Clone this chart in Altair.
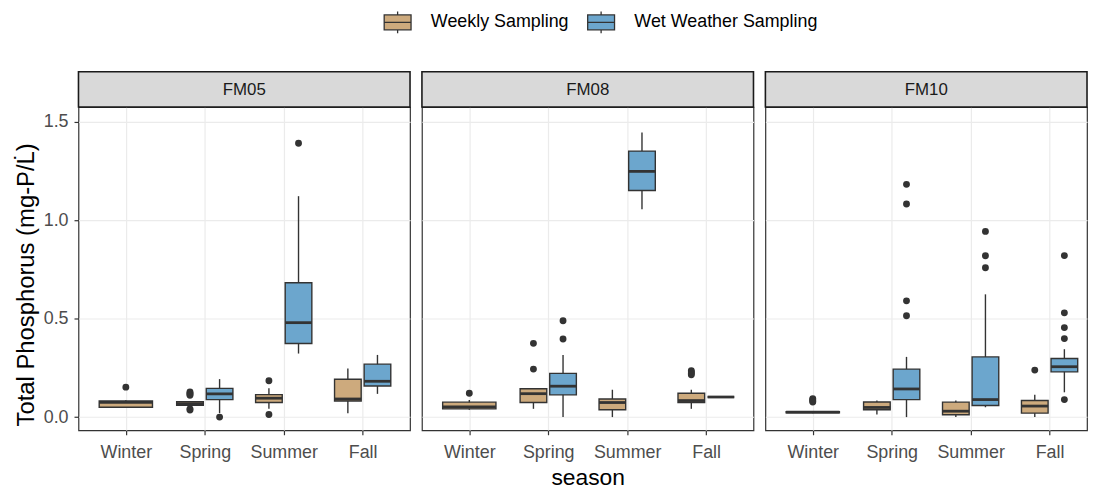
import altair as alt
import pandas as pd

# ---------------- data ----------------
sites = ["FM05", "FM08", "FM10"]
seasons = ["Winter", "Spring", "Summer", "Fall"]
sampling_types = ["Weekly Sampling", "Wet Weather Sampling"]
fill_colors = ["#CDAA7D", "#6CA6CD"]

WK, WW = sampling_types
box_site = ["FM05"] * 7 + ["FM08"] * 7 + ["FM10"] * 7
box_season = ["Winter", "Spring", "Spring", "Summer", "Summer", "Fall", "Fall"] * 3
box_type = [WK, WK, WW, WK, WW, WK, WW] * 3

whisker_low = [0.050, 0.058, 0.020, 0.042, 0.323, 0.020, 0.118,
               0.037, 0.042, 0.000, 0.000, 1.056, 0.042, 0.102,
               0.020, 0.013, 0.000, 0.000, 0.050, 0.000, 0.126]
quart_1 = [0.050, 0.060, 0.089, 0.074, 0.374, 0.082, 0.158,
           0.042, 0.074, 0.113, 0.037, 1.152, 0.074, 0.102,
           0.022, 0.037, 0.089, 0.012, 0.059, 0.020, 0.230]
median = [0.075, 0.068, 0.118, 0.096, 0.480, 0.092, 0.182,
          0.052, 0.119, 0.157, 0.074, 1.249, 0.084, 0.102,
          0.025, 0.049, 0.143, 0.030, 0.089, 0.056, 0.256]
quart_3 = [0.082, 0.078, 0.146, 0.114, 0.683, 0.192, 0.269,
           0.076, 0.144, 0.222, 0.092, 1.352, 0.121, 0.102,
           0.028, 0.077, 0.244, 0.076, 0.306, 0.084, 0.298]
whisker_high = [0.085, 0.080, 0.193, 0.146, 1.123, 0.247, 0.316,
                0.087, 0.144, 0.316, 0.139, 1.447, 0.139, 0.102,
                0.030, 0.084, 0.306, 0.084, 0.624, 0.114, 0.345]

out_site = (["FM05"] * 11 + ["FM08"] * 9 + ["FM10"] * 17)
out_season = (["Winter"] + ["Spring"] * 7 + ["Summer"] * 3 +
              ["Winter"] + ["Spring"] * 4 + ["Fall"] * 4 +
              ["Winter"] * 4 + ["Spring"] * 4 + ["Summer"] * 3 + ["Fall"] * 6)
out_type = ([WK] + [WK] * 6 + [WW] + [WK] * 2 + [WW] +
            [WK] + [WK] * 2 + [WW] * 2 + [WK] * 4 +
            [WK] * 4 + [WW] * 4 + [WW] * 3 + [WK] + [WW] * 5)
out_value = ([0.152, 0.128, 0.122, 0.116, 0.111, 0.042, 0.036, 0.000, 0.185, 0.013, 1.392] +
             [0.121, 0.375, 0.244, 0.397, 0.490, 0.236, 0.229, 0.222, 0.215] +
             [0.094, 0.088, 0.082, 0.077, 1.183, 1.083, 0.591, 0.515, 0.944, 0.820, 0.759,
              0.239, 0.821, 0.530, 0.455, 0.399, 0.089])

y_title = "Total Phosphorus (mg-P/L\u0307)"

# ---------------- dodge (like ggplot position_dodge2) ----------------
box = pd.DataFrame({"site": box_site, "season": box_season, "type": box_type,
                    "lo": whisker_low, "q1": quart_1, "med": median,
                    "q3": quart_3, "hi": whisker_high})
DODGE, PAD = 0.75, 0.1
n = box.groupby(["site", "season"])["type"].transform("count")
rank = box.groupby(["site", "season"]).cumcount()
sidx = box["season"].map({s: i for i, s in enumerate(seasons)})
slot = DODGE / n
box["xc"] = sidx - DODGE / 2 + slot * (rank + 0.5)
box["xl"] = box["xc"] - slot * (1 - PAD) / 2
box["xr"] = box["xc"] + slot * (1 - PAD) / 2

outl = pd.DataFrame({"site": out_site, "season": out_season, "type": out_type, "value": out_value})
outl = outl.merge(box[["site", "season", "type", "xc"]], on=["site", "season", "type"], how="left")

# ---------------- panels ----------------
STEP = 334 / 4.2
widths = [334, 334, 324]
HEIGHT = 325.6
ydom = [-0.067, 1.576]
label_expr = "[" + ",".join("'%s'" % s for s in seasons) + "][datum.value]"
legend_path = ("M-1.23,-0.68H1.23V0.68H-1.23Z M-1.23,0H1.23 "
               "M0,-0.68V-1 M0,0.68V1")


def panel(i, site):
    w = widths[i]
    xs = alt.Scale(domain=[-0.6, -0.6 + w / STEP], nice=False, zero=False)
    ys = alt.Scale(domain=ydom, nice=False, zero=False)
    if i == 1:
        xaxis = alt.Axis(values=[0, 1, 2, 3], labelExpr=label_expr, title="season",
                         titleY=55, titleBaseline="alphabetic", titleFontSize=23)
    else:
        xaxis = alt.Axis(values=[0, 1, 2, 3], labelExpr=label_expr, title=None)
    if i == 0:
        yaxis = alt.Axis(values=[0, 0.5, 1.0, 1.5], format=".1f", title=y_title,
                         titleAngle=270, titleAlign="left", titleBaseline="alphabetic",
                         titleX=-45, titleY=321.3, titleFontSize=24)
    else:
        yaxis = alt.Axis(values=[0, 0.5, 1.0, 1.5], labels=False, ticks=False, title=None)

    def X(f):
        return alt.X(f"{f}:Q", scale=xs, axis=xaxis)

    def Y(f):
        return alt.Y(f"{f}:Q", scale=ys, axis=yaxis)

    b = box[box["site"] == site]
    o = outl[outl["site"] == site]

    whisk = alt.Chart(b).mark_rule(color="#333333", strokeWidth=1.4).encode(
        x=X("xc"), y=Y("lo"), y2="hi")
    rects = alt.Chart(b).mark_rect(stroke="#333333", strokeWidth=1.4).encode(
        x=X("xl"), x2="xr", y=Y("q1"), y2="q3",
        fill=alt.Fill("type:N",
                      scale=alt.Scale(domain=sampling_types, range=fill_colors),
                      legend=alt.Legend(title=None, orient="none", direction="horizontal",
                                        legendX=309.5, legendY=-97.5, padding=0,
                                        symbolType=legend_path, symbolSize=484,
                                        symbolStrokeColor="#333333", symbolStrokeWidth=1.3,
                                        symbolOpacity=1, labelLimit=400,
                                        labelFontSize=18, labelColor="#000000",
                                        labelFont="Liberation Sans",
                                        labelOffset=21.5, columnPadding=15)))
    meds = alt.Chart(b).mark_rule(color="#333333", strokeWidth=2.8).encode(
        x=X("xl"), x2="xr", y=Y("med"))
    pts = alt.Chart(o).mark_circle(size=48, color="#333333", opacity=1).encode(
        x=X("xc"), y=Y("value"))

    strip_df = pd.DataFrame({"site": [site]})
    strip = alt.Chart(strip_df).mark_rect(fill="#D9D9D9", stroke="#1A1A1A", strokeWidth=1.6).encode(
        x=alt.value(0), x2=alt.value(w), y=alt.value(-35.5), y2=alt.value(0))
    strip_txt = alt.Chart(strip_df).mark_text(fontSize=17, color="#1A1A1A",
                                              font="Liberation Sans", baseline="middle").encode(
        text="site:N", x=alt.value(w / 2), y=alt.value(-17.5))

    return alt.layer(whisk, rects, meds, pts, strip, strip_txt).properties(width=w, height=HEIGHT)


panels = [panel(i, s) for i, s in enumerate(sites)]

chart = (
    alt.hconcat(*panels, spacing=12, bounds="flush")
    .resolve_scale(fill="shared")
    .properties(padding={"left": 6, "top": 0, "right": 0, "bottom": 0})
    .configure(font="Liberation Sans")
    .configure_view(stroke="#333333", strokeWidth=1.2)
    .configure_axis(domain=False, grid=True, gridColor="#EBEBEB", gridWidth=1.2,
                    tickColor="#333333", tickSize=4.5, tickWidth=1.2,
                    labelColor="#4D4D4D", labelFontSize=18, labelFont="Liberation Sans",
                    titleFont="Liberation Sans", titleFontSize=22, titleColor="#000000",
                    titleFontWeight="normal")
    .configure_axisX(labelPadding=8.5)
    .configure_axisY(labelPadding=6)
)

chart.save("out.html", embed_options={"renderer": "svg", "actions": False})
